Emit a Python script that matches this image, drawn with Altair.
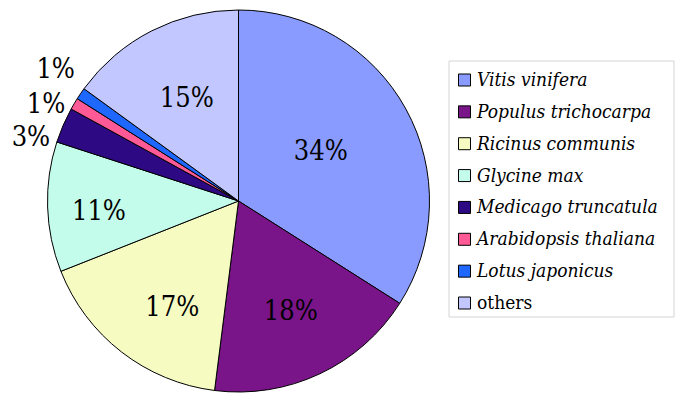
import math
import altair as alt
import pandas as pd

categories = ["Vitis vinifera", "Populus trichocarpa", "Ricinus communis", "Glycine max",
              "Medicago truncatula", "Arabidopsis thaliana", "Lotus japonicus", "others"]
shares = [34, 18, 17, 11, 3, 1, 1, 15]
labels = ["34%", "18%", "17%", "11%", "3%", "1%", "1%", "15%"]
colors = ["#8A9BFF", "#7A1589", "#F6FBC2", "#C3FCEA", "#2D0A84", "#FF5A95", "#1E68FF", "#C2C8FF"]

# label placement styling (radius in px, angular nudge in % of the circle)
label_radius = [96, 123, 126, 140, 217, 215, 225, 114]
label_nudge = [-0.6, 0.0, -1.7, -0.75, -1.8, -1.15, 0.4, 0.0]

df = pd.DataFrame({
    "cat": categories,
    "value": shares,
    "label": labels,
    "idx": list(range(len(categories))),
    "lr": label_radius,
    "nudge": label_nudge,
})

CX, CY, R = 230.5, 193, 191
FONT = "DejaVu Serif Condensed, DejaVu Serif"

theta_scale = alt.Scale(domain=[0, 100], range=[0, 2 * math.pi])
color_scale = alt.Scale(domain=categories, range=colors)

arc = alt.Chart(df).mark_arc(radius=R, stroke="black", strokeWidth=1).encode(
    theta=alt.Theta("value:Q", stack=True, scale=theta_scale),
    color=alt.Color("cat:N", scale=color_scale, legend=None),
    order=alt.Order("idx:Q"),
    x=alt.value(CX),
    y=alt.value(CY),
)

pie_text = alt.Chart(df).transform_window(
    cum="sum(value)", sort=[alt.SortField("idx")], frame=[None, 0]
).transform_calculate(
    mid="datum.cum - datum.value / 2 + datum.nudge"
).mark_text(font=FONT, fontSize=27, align="center", baseline="middle", color="black").encode(
    theta=alt.Theta("mid:Q", stack=None, scale=theta_scale),
    radius=alt.Radius("lr:Q", scale=None),
    text="label:N",
    x=alt.value(CX),
    y=alt.value(CY),
)

border = alt.Chart(pd.DataFrame({"a": [0]})).mark_rect(
    fill="white", stroke="#d4d4d4", strokeWidth=1
).encode(x=alt.value(441), x2=alt.value(666), y=alt.value(53), y2=alt.value(309))

leg_y = alt.Y("cat:N", scale=alt.Scale(type="point", domain=categories, range=[72, 295], padding=0), axis=None)

squares = alt.Chart(df).mark_square(size=144, stroke="black", strokeWidth=1, opacity=1, filled=True).encode(
    x=alt.value(456.5),
    y=leg_y,
    color=alt.Color("cat:N", scale=color_scale, legend=None),
)

leg_italic = alt.Chart(df).transform_filter("datum.cat != 'others'").mark_text(
    font=FONT, fontSize=19, fontStyle="italic", align="left", baseline="middle", color="black"
).encode(x=alt.value(469), y=leg_y, text="cat:N")

leg_plain = alt.Chart(df).transform_filter("datum.cat == 'others'").mark_text(
    font=FONT, fontSize=19, align="left", baseline="middle", color="black"
).encode(x=alt.value(469), y=leg_y, text="cat:N")

chart = alt.layer(arc, pie_text, border, squares, leg_italic, leg_plain).properties(
    width=669, height=387, padding=0, background="white"
).configure_view(stroke=None)

chart.save("out.html", embed_options={"renderer": "svg", "actions": False})
